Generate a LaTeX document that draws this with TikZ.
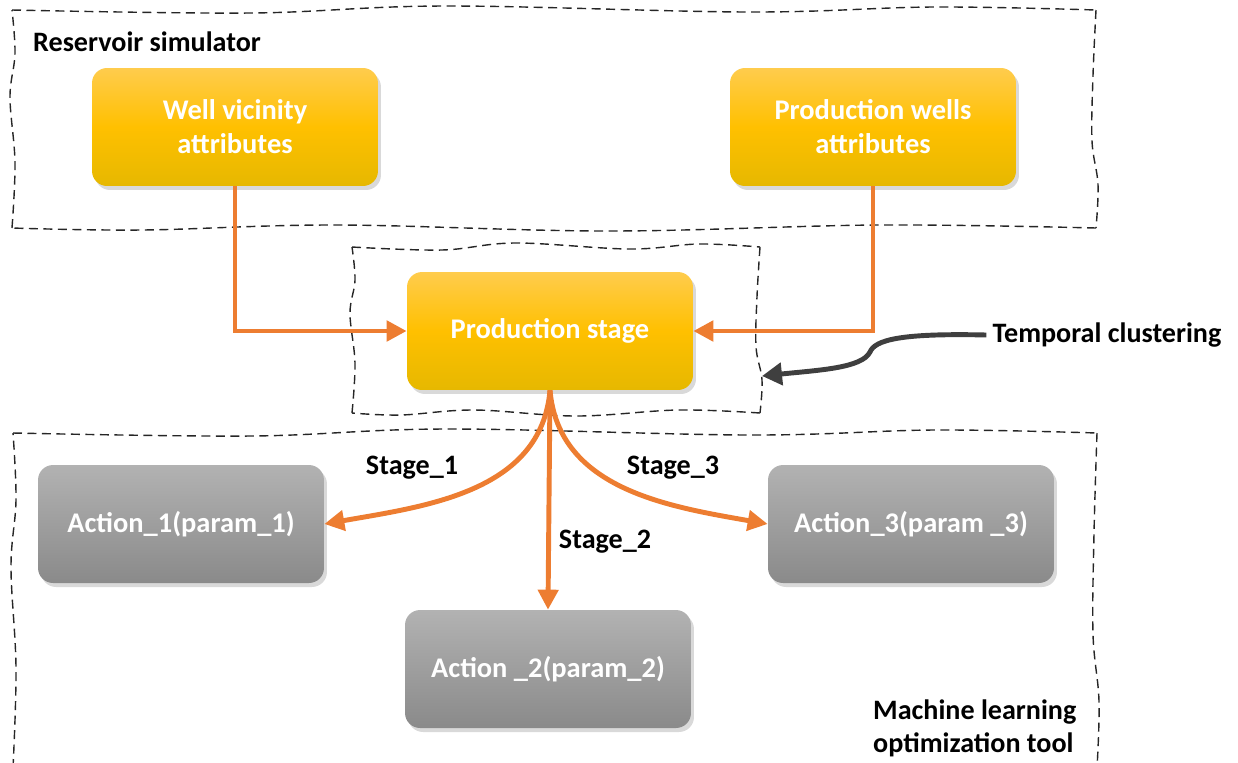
\documentclass[tikz,border=0pt]{standalone}
\usepackage{fontspec}
\setmainfont{Carlito}
\usetikzlibrary{arrows.meta,shadows,calc}

\definecolor{flowor}{HTML}{ED7D31}
\definecolor{darkarr}{HTML}{3F3F3F}

\newcommand{\wavyframe}[4]{%
  \draw[frame] plot[smooth, tension=0.6] coordinates {(#1,#2) ($(#1,#2)!0.22!(#3,#2)+(0,-3)$)
    ($(#1,#2)!0.4!(#3,#2)+(0,4)$) ($(#1,#2)!0.68!(#3,#2)+(0,-2)$) ($(#1,#2)!0.85!(#3,#2)+(0,3)$) (#3,#2)};
  \draw[frame] plot[smooth, tension=0.6] coordinates {(#3,#2) ($(#3,#2)!0.3!(#3,#4)+(-3,0)$)
    ($(#3,#2)!0.6!(#3,#4)+(-4,0)$) ($(#3,#2)!0.8!(#3,#4)+(2,0)$) (#3,#4)};
  \draw[frame] plot[smooth, tension=0.6] coordinates {(#3,#4) ($(#3,#4)!0.2!(#1,#4)+(0,3)$)
    ($(#3,#4)!0.45!(#1,#4)+(0,-3)$) ($(#3,#4)!0.7!(#1,#4)+(0,3)$) ($(#3,#4)!0.88!(#1,#4)+(0,-2)$) (#1,#4)};
  \draw[frame] plot[smooth, tension=0.6] coordinates {(#1,#4) ($(#1,#4)!0.3!(#1,#2)+(3,0)$)
    ($(#1,#4)!0.6!(#1,#2)+(-2,0)$) ($(#1,#4)!0.8!(#1,#2)+(3,0)$) (#1,#2)};
}

\begin{document}
\begin{tikzpicture}[x=0.02cm, y=0.02cm]
  \tikzstyle{box}=[rectangle, rounded corners=0.3cm, minimum width=5.72cm, minimum height=2.36cm,
    align=center, text=white, font=\fontsize{16.2}{19.3}\selectfont\bfseries,
    drop shadow={opacity=0.3, shadow xshift=0.6mm, shadow yshift=-0.8mm}]
  \tikzstyle{goldbox}=[box, top color={rgb,255:red,255;green,204;blue,77}, bottom color={rgb,255:red,230;green,184;blue,0}, middle color={rgb,255:red,255;green,192;blue,0}]
  \tikzstyle{greybox}=[box, top color={rgb,255:red,178;green,178;blue,178}, bottom color={rgb,255:red,138;green,138;blue,138}]
  \tikzstyle{frame}=[draw=black!85, line width=0.8pt, dash pattern=on 1.8mm off 1.1mm]
  \tikzstyle{label}=[font=\fontsize{16}{18.7}\selectfont\bfseries, align=left]
  \tikzstyle{flow}=[draw=flowor, line width=2.8pt, -{Triangle[length=4mm,width=4mm]}]

  \useasboundingbox (0,0) rectangle (1238,-762);

  \wavyframe{12}{-10}{1096}{-228}
  \wavyframe{352}{-247}{760}{-413}
  \wavyframe{13}{-433}{1097}{-768}

  \node[label, anchor=west] (ressim) at (27,-42) {Reservoir simulator};

  \node[label, anchor=west] (mltool) at (867,-728) {Machine learning\\optimization tool};

  \node[label] (tempclus) at (1107,-335) {Temporal clustering};

  \node[goldbox] (wellvic) at (235,-127) {Well vicinity\\attributes};

  \node[goldbox] (prodwells) at (873,-127) {Production wells\\attributes};

  \node[goldbox] (prodstage) at (550,-331) {Production stage};

  \node[greybox] (act1) at (181,-524) {Action\_1(param\_1)};

  \node[greybox] (act3) at (911,-524) {Action\_3(param \_3)};

  \node[greybox] (act2) at (548,-669) {Action \_2(param\_2)};

  \coordinate (clusend) at (762,-376);

  \draw[flow] (wellvic.south) |- (prodstage.west);
  \draw[flow] (prodwells.south) |- (prodstage.east);

  \draw[flow] (prodstage.south) to[out=-95, in=10] (act1.east);
  \draw[flow] (prodstage.south) -- (act2.north);
  \draw[flow] (prodstage.south) to[out=-85, in=170] (act3.west);

  \draw[darkarr, line width=2.8pt, -{Triangle[length=4mm,width=4.4mm]}]
    (tempclus.west) .. controls (900,-333) and (875,-340) .. (870,-352)
    .. controls (862,-368) and (820,-370) .. (clusend);

  \node[label] (st1) at (412,-468) {Stage\_1};
  \node[label] (st2) at (605,-542) {Stage\_2};
  \node[label] (st3) at (673,-468) {Stage\_3};

\end{tikzpicture}
\end{document}
